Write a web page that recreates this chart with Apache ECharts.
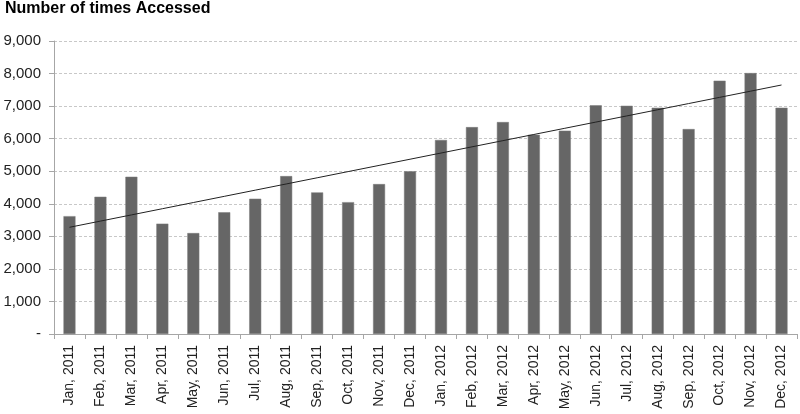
<!DOCTYPE html>
<html>
<head>
<meta charset="utf-8">
<script src="https://cdn.jsdelivr.net/npm/echarts@6/dist/echarts.min.js"></script>
<style>
html,body{margin:0;padding:0;background:#fff;}
#chart{width:800px;height:414px;}
</style>
</head>
<body>
<div id="chart"></div>
<script>
const titleText = 'Number of times Accessed';
const categories = ['Jan, 2011','Feb, 2011','Mar, 2011','Apr, 2011','May, 2011','Jun, 2011','Jul, 2011','Aug, 2011','Sep, 2011','Oct, 2011','Nov, 2011','Dec, 2011',
  'Jan, 2012','Feb, 2012','Mar, 2012','Apr, 2012','May, 2012','Jun, 2012','Jul, 2012','Aug, 2012','Sep, 2012','Oct, 2012','Nov, 2012','Dec, 2012'];
const accesses = [3620,4215,4830,3390,3100,3740,4155,4850,4350,4050,4605,5000,
  5960,6355,6510,6120,6245,7025,7010,6950,6295,7780,8015,6950];
const yTicks = [0,1000,2000,3000,4000,5000,6000,7000,8000,9000];

// Linear trendline (least squares fit of the data, like Excel's trendline)
const n = accesses.length;
const xm = (n - 1) / 2;
const ym = accesses.reduce((a, b) => a + b, 0) / n;
let sxy = 0, sxx = 0;
accesses.forEach((v, i) => { sxy += (i - xm) * (v - ym); sxx += (i - xm) * (i - xm); });
const slope = sxy / sxx;
const trend = accesses.map((v, i) => ym + slope * (i - xm));

const chart = echarts.init(document.getElementById('chart'), null, {renderer: 'canvas'});
chart.setOption({
  animation: false,
  title: {
    text: titleText, left: 5, top: 1, padding: 0,
    textStyle: {fontFamily: 'Liberation Sans', fontWeight: 'bold', fontSize: 16, color: '#000'}
  },
  grid: {left: 54, right: 3, top: 41, bottom: 80, containLabel: false},
  xAxis: {
    type: 'category', data: categories, boundaryGap: true,
    axisLine: {lineStyle: {color: '#a6a6a6', width: 1}},
    axisTick: {show: true, length: 5, alignWithLabel: false, lineStyle: {color: '#a6a6a6'}},
    axisLabel: {rotate: 90, interval: 0, fontFamily: 'Liberation Sans', fontSize: 14, color: '#222', margin: 11}
  },
  yAxis: {
    type: 'value', min: yTicks[0], max: yTicks[yTicks.length - 1], interval: 1000,
    axisLine: {show: true, lineStyle: {color: '#a6a6a6', width: 1}},
    axisTick: {show: true, length: 5, lineStyle: {color: '#a6a6a6'}},
    splitLine: {show: true, lineStyle: {color: '#c8c8c8', type: [3, 2], width: 1}},
    axisLabel: {
      fontFamily: 'Liberation Sans', fontSize: 15, color: '#222', margin: 13,
      formatter: v => v === 0 ? '-' : v.toLocaleString('en-US')
    }
  },
  series: [
    {type: 'bar', data: accesses, barWidth: 12,
     itemStyle: {color: '#666666', borderColor: '#7a7a7a', borderWidth: 0.5}},
    {type: 'line', data: trend, symbol: 'none', silent: true,
     lineStyle: {color: '#222', width: 1}, z: 5}
  ]
});
</script>
</body>
</html>
